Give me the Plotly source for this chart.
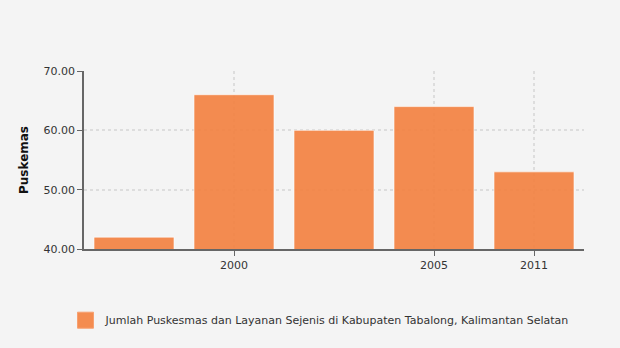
import plotly.graph_objects as go

categories = ["", "2000", " ", "2005", "2011"]
values = [42, 66, 60, 64, 53]
tick_labels = ["2000", "2005", "2011"]
series_name = "Jumlah Puskesmas dan Layanan Sejenis di Kabupaten Tabalong, Kalimantan Selatan"

x_idx = list(range(len(categories)))
tick_pos = [categories.index(t) for t in tick_labels]

fig = go.Figure()
fig.add_trace(go.Bar(
    x=x_idx, y=values, name=series_name, showlegend=False,
    marker=dict(color="rgba(243,128,62,0.9)", line=dict(color="rgba(255,255,255,0.6)", width=1)),
    width=0.8,
))
fig.add_trace(go.Scatter(
    x=[None], y=[None], mode="markers", name=series_name, showlegend=True,
    marker=dict(symbol="square", size=17, color="#F48C50", line=dict(color="#F7A070", width=1)),
))

font_family = "Verdana, DejaVu Sans, sans-serif"
fig.update_layout(
    width=620, height=348,
    margin=dict(l=84, r=36, t=71, b=99),
    paper_bgcolor="#F4F4F4", plot_bgcolor="#F4F4F4",
    font=dict(family=font_family, size=11, color="#333333"),
    showlegend=True,
    legend=dict(orientation="h", x=-0.037, y=-0.40, xanchor="left", yanchor="middle",
                font=dict(size=11, color="#333333"), bgcolor="rgba(0,0,0,0)"),
    xaxis=dict(
        range=[-0.5, 4.5], tickvals=tick_pos, ticktext=tick_labels,
        showline=True, linecolor="#666666", linewidth=1.5,
        ticks="outside", ticklen=5, tickcolor="#666666",
        showgrid=True, gridcolor="#DDDDDD", griddash="dot", gridwidth=1.5,
        zeroline=False, fixedrange=True,
    ),
    yaxis=dict(
        range=[40, 70], tickvals=[40, 50, 60, 70], tickformat=".2f",
        title=dict(text="<b>Puskemas</b>", font=dict(size=12, color="#111111"), standoff=12),
        showline=True, linecolor="#666666", linewidth=1.5,
        ticks="outside", ticklen=5, tickcolor="#666666",
        showgrid=True, gridcolor="#DDDDDD", griddash="dot", gridwidth=1.5,
        zeroline=False, fixedrange=True,
    ),
)

fig.write_html("out.html")
